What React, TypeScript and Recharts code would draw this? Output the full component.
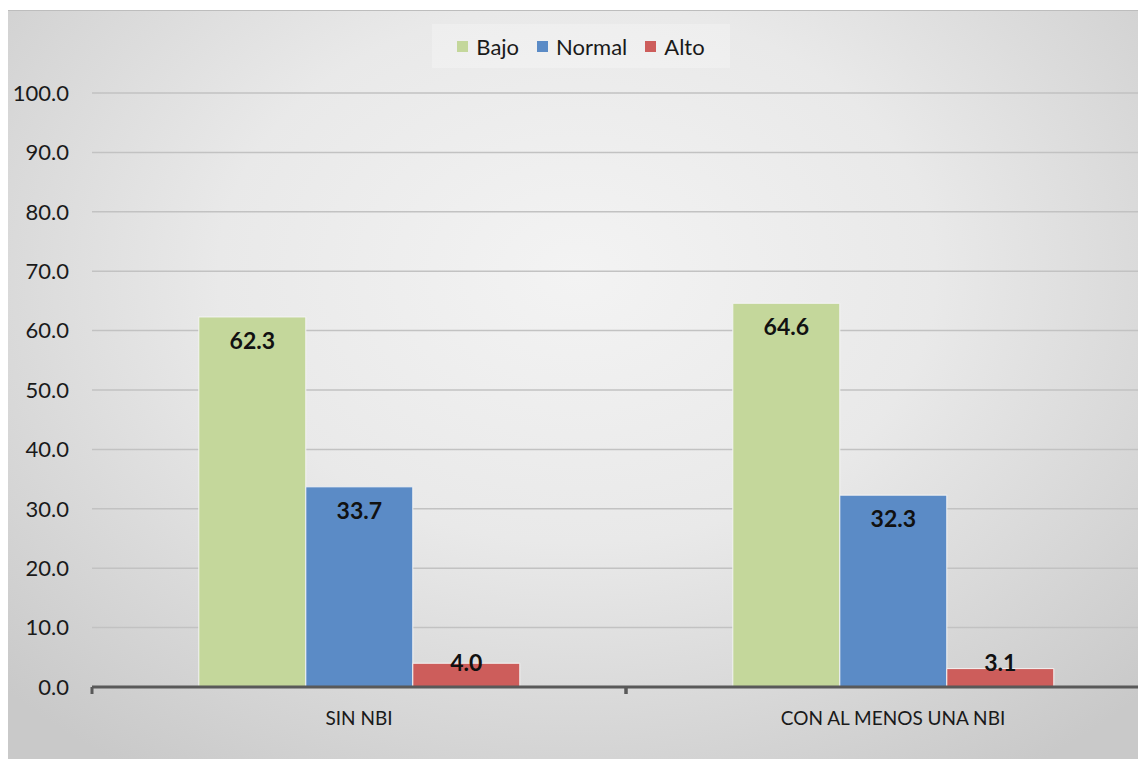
import React from 'react';
import { BarChart, Bar, XAxis, YAxis, CartesianGrid, LabelList } from 'recharts';

const categories = ['SIN NBI', 'CON AL MENOS UNA NBI'];
const bajo = [62.3, 64.6];
const normal = [33.7, 32.3];
const alto = [4.0, 3.1];
const yTicks = [0, 10, 20, 30, 40, 50, 60, 70, 80, 90, 100];

const series = [
  { key: 'bajo', name: 'Bajo', color: '#c4d79b' },
  { key: 'normal', name: 'Normal', color: '#5b8bc6' },
  { key: 'alto', name: 'Alto', color: '#cd5d5b' },
];

const data = categories.map((c, i) => ({
  name: c,
  bajo: bajo[i],
  normal: normal[i],
  alto: alto[i],
}));

const FONT = 'Lato, "Open Sans", sans-serif';

const CategoryTick = (props: any) => {
  const { x, y, payload } = props;
  const off = payload.offset || 0;
  return (
    <g>
      <line x1={x - off} x2={x - off} y1={y - 23} y2={y - 16} stroke="#595959" strokeWidth={3} />
      <line x1={x + off} x2={x + off} y1={y - 23} y2={y - 16} stroke="#595959" strokeWidth={3} />
      <text x={x} y={y} dy={15} textAnchor="middle" fontSize={19} fill="#1a1a1a" fontFamily={FONT}>
        {payload.value}
      </text>
    </g>
  );
};

const ValueLabel = (props: any) => {
  const { x, y, width, height, value } = props;
  const cy = height > 40 ? y + 24 : y + height - 24;
  return (
    <text
      x={x + width / 2}
      y={cy}
      dy={8}
      textAnchor="middle"
      fontSize={23}
      fontWeight="bold"
      fill="#111"
      fontFamily={FONT}
    >
      {Number(value).toFixed(1)}
    </text>
  );
};

const LegendBox = () => (
  <div
    style={{
      position: 'absolute',
      left: 424,
      top: 13,
      width: 298,
      height: 44,
      display: 'flex',
      justifyContent: 'center',
      alignItems: 'center',
      background: 'rgba(255,255,255,0.25)',
      fontFamily: FONT,
      fontSize: 22,
      color: '#1a1a1a',
      zIndex: 2,
    }}
  >
    {series.map((s, i) => (
      <span key={s.key} style={{ display: 'flex', alignItems: 'center', marginRight: i < series.length - 1 ? 18 : 0 }}>
        <span style={{ width: 11, height: 11, background: s.color, display: 'inline-block', marginRight: 8 }} />
        {s.name}
      </span>
    ))}
  </div>
);

export default function App() {
  return (
    <div
      style={{
        position: 'relative',
        width: 1138,
        height: 749,
        marginTop: 2,
        overflow: 'hidden',
        borderTop: '1px solid #bdbdbd',
        background: 'radial-gradient(ellipse 70% 80% at 50% 35%, #f3f3f3 0%, #e9e9e9 45%, #c9c9c9 100%)',
      }}
    >
      <LegendBox />
      <BarChart
        width={1160}
        height={749}
        data={data}
        margin={{ top: 82, right: 8, left: 0, bottom: 23 }}
        barCategoryGap="20%"
        barGap={0}
      >
        <CartesianGrid vertical={false} stroke="#c2c2c2" strokeWidth={1.5} />
        <YAxis
          type="number"
          domain={[0, 100]}
          ticks={yTicks}
          width={84}
          axisLine={false}
          tickLine={false}
          tickMargin={17}
          tickFormatter={(v: number) => v.toFixed(1)}
          tick={{ fontSize: 22, fill: '#1a1a1a', fontFamily: FONT }}
        />
        <XAxis
          dataKey="name"
          height={50}
          axisLine={{ stroke: '#595959', strokeWidth: 3 }}
          tickLine={false}
          tickSize={6}
          tickMargin={17}
          tick={<CategoryTick />}
        />
        {series.map(s => (
          <Bar key={s.key} dataKey={s.key} name={s.name} fill={s.color} stroke="#f4f4f4" strokeWidth={1} isAnimationActive={false}>
            <LabelList dataKey={s.key} content={<ValueLabel />} />
          </Bar>
        ))}
      </BarChart>
    </div>
  );
}
